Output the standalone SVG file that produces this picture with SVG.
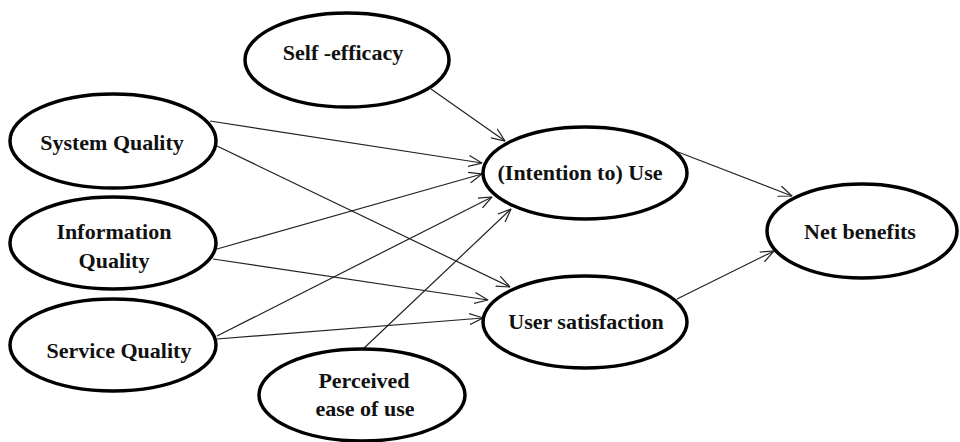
<svg xmlns="http://www.w3.org/2000/svg" width="960" height="442" viewBox="0 0 960 442">
<style>
.n ellipse{fill:#fff;stroke:#000;stroke-width:3.5}
.n text{font-weight:bold;font-size:22px;fill:#111;text-anchor:middle}
.c line{stroke:#222;stroke-width:1.2;marker-end:url(#ah)}
</style>
<defs>
<marker id="ah" markerUnits="userSpaceOnUse" viewBox="0 0 14 12" refX="13.5" refY="6" markerWidth="14" markerHeight="12" orient="auto">
<path d="M0,0.5 L13.5,6 L0,11.5" fill="none" stroke="#222" stroke-width="1.2"/>
</marker>
</defs>
<rect width="960" height="442" fill="#fff"/>
<g class="c" id="connectors">
<line x1="431" y1="89" x2="505" y2="141"/>
<line x1="210" y1="121" x2="482" y2="163"/>
<line x1="217" y1="146" x2="510" y2="287"/>
<line x1="217" y1="249" x2="482" y2="174"/>
<line x1="213" y1="259" x2="488" y2="300"/>
<line x1="217" y1="336" x2="492" y2="197"/>
<line x1="217" y1="339" x2="483" y2="318"/>
<line x1="362" y1="350" x2="511" y2="209"/>
<line x1="678" y1="152" x2="792" y2="196"/>
<line x1="677" y1="299" x2="774" y2="251"/>
</g>
<g class="n" id="self-efficacy" font-family="'Liberation Serif', 'Times New Roman', 'DejaVu Serif', serif"><ellipse cx="347" cy="60" rx="102" ry="47"/><text x="343" y="60">Self -efficacy</text></g>
<g class="n" id="system-quality" font-family="'Liberation Serif', 'Times New Roman', 'DejaVu Serif', serif"><ellipse cx="113" cy="141" rx="103" ry="47"/><text x="112" y="150">System Quality</text></g>
<g class="n" id="information-quality" font-family="'Liberation Serif', 'Times New Roman', 'DejaVu Serif', serif"><ellipse cx="113" cy="243" rx="103" ry="46"/><text x="114" y="239">Information</text><text x="114" y="268">Quality</text></g>
<g class="n" id="service-quality" font-family="'Liberation Serif', 'Times New Roman', 'DejaVu Serif', serif"><ellipse cx="113" cy="345" rx="103" ry="46"/><text x="119" y="358">Service Quality</text></g>
<g class="n" id="perceived-ease" font-family="'Liberation Serif', 'Times New Roman', 'DejaVu Serif', serif"><ellipse cx="362" cy="395" rx="103" ry="46"/><text x="364" y="388">Perceived</text><text x="365" y="416">ease of use</text></g>
<g class="n" id="intention-use" font-family="'Liberation Serif', 'Times New Roman', 'DejaVu Serif', serif"><ellipse cx="585" cy="173" rx="102" ry="46"/><text x="580" y="180">(Intention to) Use</text></g>
<g class="n" id="user-satisfaction" font-family="'Liberation Serif', 'Times New Roman', 'DejaVu Serif', serif"><ellipse cx="585" cy="322" rx="102" ry="46"/><text x="586" y="329">User satisfaction</text></g>
<g class="n" id="net-benefits" font-family="'Liberation Serif', 'Times New Roman', 'DejaVu Serif', serif"><ellipse cx="862" cy="231" rx="95" ry="47"/><text x="860" y="239">Net benefits</text></g>
</svg>
